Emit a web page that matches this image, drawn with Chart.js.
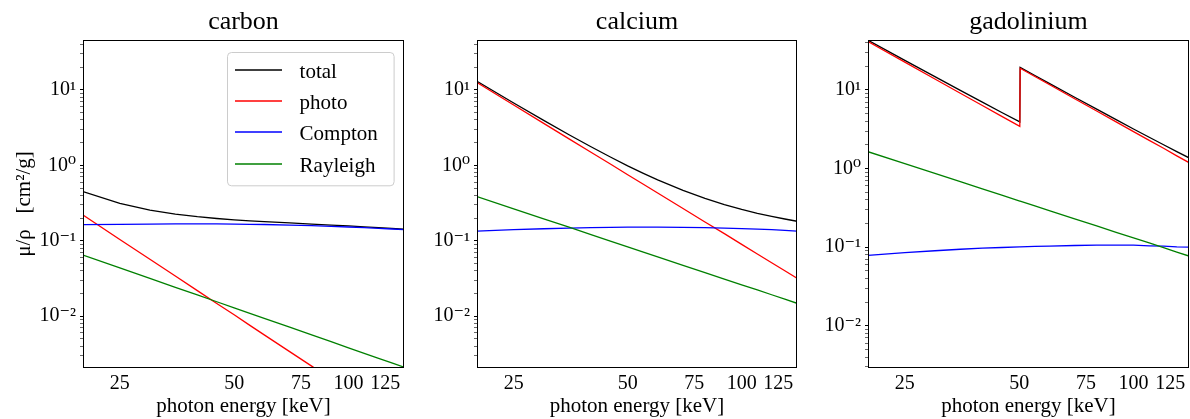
<!DOCTYPE html>
<html>
<head>
<meta charset="utf-8">
<script src="https://cdn.jsdelivr.net/npm/chart.js@4.4.1/dist/chart.umd.min.js"></script>
<style>
  html, body { margin: 0; padding: 0; background: #ffffff; }
  body { width: 1190px; height: 419px; position: relative; overflow: hidden; }
  canvas { position: absolute; top: 0; }
</style>
</head>
<body>
<canvas id="c1" width="410" height="419" style="left:0px;width:410px;height:419px"></canvas>
<canvas id="c2" width="390" height="419" style="left:410px;width:390px;height:419px"></canvas>
<canvas id="c3" width="390" height="419" style="left:800px;width:390px;height:419px"></canvas>
<script>
// ---------------- data ----------------
const seriesNames = ['total', 'photo', 'Compton', 'Rayleigh'];
const panelTitles = ['carbon', 'calcium', 'gadolinium'];

const energies = [20, 25, 30, 35, 40, 45, 50, 55, 60, 70, 80, 90, 100, 110, 120, 130, 140];

const carbonTotal    = [0.447, 0.313, 0.255, 0.225, 0.208, 0.197, 0.189, 0.183, 0.179, 0.172, 0.166, 0.161, 0.157, 0.153, 0.149, 0.146, 0.142];
const carbonPhoto    = [0.219, 0.104, 0.0568, 0.0340, 0.0218, 0.0147, 0.0104, 0.00754, 0.00564, 0.00338, 0.00217, 0.00146, 0.00103, 0.00075, 0.00056, 0.00043, 0.00034];
const carbonCompton  = [0.163, 0.165, 0.166, 0.167, 0.167, 0.167, 0.166, 0.165, 0.164, 0.161, 0.158, 0.155, 0.152, 0.149, 0.146, 0.143, 0.140];
const carbonRayleigh = [0.0646, 0.0436, 0.0317, 0.0241, 0.0191, 0.0155, 0.0129, 0.0109, 0.00934, 0.00712, 0.00563, 0.00458, 0.00380, 0.00321, 0.00276, 0.00240, 0.00210];

const calciumTotal    = [13.0, 6.70, 3.94, 2.54, 1.76, 1.29, 0.984, 0.782, 0.641, 0.464, 0.364, 0.302, 0.260, 0.231, 0.210, 0.194, 0.181];
const calciumPhoto    = [12.5, 6.30, 3.60, 2.24, 1.49, 1.04, 0.750, 0.560, 0.429, 0.267, 0.177, 0.124, 0.0893, 0.0667, 0.0510, 0.0399, 0.0318];
const calciumCompton  = [0.134, 0.140, 0.144, 0.147, 0.149, 0.150, 0.151, 0.151, 0.151, 0.150, 0.149, 0.147, 0.145, 0.142, 0.140, 0.137, 0.134];
const calciumRayleigh = [0.384, 0.264, 0.195, 0.151, 0.120, 0.0989, 0.0829, 0.0707, 0.0611, 0.0472, 0.0378, 0.0310, 0.0260, 0.0222, 0.0192, 0.0168, 0.0148];

const gdEnergies = [20, 25, 30, 35, 40, 45, 50.2, 50.3, 55, 60, 70, 80, 90, 100, 110, 120, 130, 140];
const gdTotal    = [42.9, 23.8, 14.75, 9.87, 6.99, 5.17, 3.92, 19.37, 15.28, 12.13, 8.07, 5.69, 4.19, 3.19, 2.50, 2.01, 1.64, 1.37];
const gdPhoto    = [41.2, 22.56, 13.79, 9.09, 6.34, 4.62, 3.44, 18.88, 14.84, 11.73, 7.74, 5.39, 3.93, 2.95, 2.28, 1.81, 1.45, 1.19];
const gdCompton  = [0.0784, 0.085, 0.090, 0.094, 0.097, 0.099, 0.101, 0.101, 0.102, 0.103, 0.105, 0.106, 0.106, 0.106, 0.104, 0.103, 0.101, 0.100];
const gdRayleigh = [1.637, 1.153, 0.866, 0.680, 0.551, 0.458, 0.386, 0.385, 0.334, 0.292, 0.229, 0.186, 0.154, 0.131, 0.113, 0.0983, 0.0866, 0.0771];

const xTickValues = [25, 50, 75, 100, 125];
const xTickLabels = ['25', '50', '75', '100', '125'];
const yTickValues = [0.01, 0.1, 1, 10];
const yTickLabels = ['10\u207B\u00B2', '10\u207B\u00B9', '10\u2070', '10\u00B9'];

const xRange = [20, 140];
const yRangeCaCa = [0.00205, 45.9];
const yRangeGd = [0.0029, 43.2];

// ---------------- styling ----------------
const FONT = "'Liberation Serif', 'DejaVu Serif', serif";
Chart.defaults.font.family = FONT;
Chart.defaults.color = '#000000';
const seriesColors = ['#000000', '#ff0000', '#0000ff', '#008000'];

function pts(xs, ys) { return xs.map((x, i) => ({ x: x, y: ys[i] })); }

function minorMajorTicks(min, max) {
  const out = [];
  for (let e = -4; e <= 2; e++) {
    for (let m = 1; m <= 9; m++) {
      const v = m * Math.pow(10, e);
      if (v >= min * 0.9999 && v <= max * 1.0001) out.push({ value: v, major: m === 1 });
    }
  }
  return out;
}

function yLabel(v) {
  const i = yTickValues.findIndex(t => Math.abs(t - v) / t < 1e-6);
  return i >= 0 ? yTickLabels[i] : '';
}
function xLabel(v) {
  const i = xTickValues.findIndex(t => Math.abs(t - v) < 1e-6);
  return i >= 0 ? xTickLabels[i] : '';
}

const framePlugin = {
  id: 'frame',
  afterDatasetsDraw(chart) {
    const { ctx, chartArea: a } = chart;
    ctx.save();
    ctx.strokeStyle = '#000000';
    ctx.lineWidth = 1;
    ctx.strokeRect(Math.round(a.left) + 0.5, Math.round(a.top) + 0.5,
                   Math.round(a.right) - Math.round(a.left) - 1, Math.round(a.bottom) - Math.round(a.top) - 1);
    ctx.restore();
  }
};

const boxLegendPlugin = {
  id: 'boxLegend',
  afterDraw(chart, args, opts) {
    if (!opts || !opts.show) return;
    const { ctx, chartArea: a } = chart;
    const w = 166.6, h = 133.3;
    const x0 = Math.round(a.right - 10.7 - w), y0 = Math.round(a.top + 11.7);
    ctx.save();
    ctx.beginPath();
    if (ctx.roundRect) ctx.roundRect(x0 + 0.5, y0 + 0.5, w, h, 4); else ctx.rect(x0 + 0.5, y0 + 0.5, w, h);
    ctx.fillStyle = 'rgba(255,255,255,0.8)';
    ctx.fill();
    ctx.strokeStyle = '#cccccc';
    ctx.lineWidth = 1;
    ctx.stroke();
    ctx.font = '21px ' + FONT;
    ctx.textBaseline = 'alphabetic';
    ctx.textAlign = 'left';
    chart.data.datasets.forEach((ds, i) => {
      const y = Math.round(y0 + 17.5 + i * 31.4);
      ctx.beginPath();
      ctx.strokeStyle = seriesColors[i];
      ctx.lineWidth = 1.5;
      ctx.moveTo(x0 + 8, y);
      ctx.lineTo(x0 + 55, y);
      ctx.stroke();
      ctx.fillStyle = '#000000';
      ctx.fillText(ds.label, x0 + 72.6, y + 7.5);
    });
    ctx.restore();
  }
};

function buildChart(id, title, xs, series, yRange, yAxisWidth, padRight, showYTitle, showLegend) {
  const datasets = series.map((vals, i) => ({
    label: seriesNames[i],
    data: pts(xs, vals),
    borderColor: seriesColors[i],
    backgroundColor: seriesColors[i],
    borderWidth: 1.3,
    pointRadius: 0,
    tension: 0,
    fill: false,
    clip: 0,
    order: series.length - i
  }));
  return new Chart(document.getElementById(id), {
    type: 'line',
    data: { datasets: datasets },
    plugins: [framePlugin, boxLegendPlugin],
    options: {
      responsive: false,
      animation: false,
      devicePixelRatio: 1,
      layout: { padding: { left: 0, right: padRight, top: 0, bottom: 0 } },
      plugins: {
        legend: { display: false },
        tooltip: { enabled: false },
        title: {
          display: true, text: title, fullSize: false, color: '#000',
          font: { family: FONT, size: 26, weight: 'normal' },
          padding: { top: 7, bottom: 1.8 }
        },
        boxLegend: { show: showLegend }
      },
      scales: {
        x: {
          type: 'logarithmic',
          position: 'bottom',
          min: xRange[0], max: xRange[1],
          afterBuildTicks: (scale) => { scale.ticks = xTickValues.map(v => ({ value: v, major: true })); },
          afterFit: (scale) => { scale.height = 51; },
          grid: { display: false, drawTicks: false, tickLength: 0 },
          border: { display: false },
          ticks: { autoSkip: false, maxRotation: 0, minRotation: 0, padding: 4, color: '#000',
                   font: { family: FONT, size: 20 }, callback: (v) => xLabel(v) },
          title: { display: true, text: 'photon energy [keV]', color: '#000',
                   font: { family: FONT, size: 21 }, padding: { top: 0, bottom: 0 } }
        },
        y: {
          type: 'logarithmic',
          position: 'left',
          min: yRange[0], max: yRange[1],
          afterBuildTicks: (scale) => { scale.ticks = minorMajorTicks(yRange[0], yRange[1]); },
          afterFit: (scale) => { scale.width = yAxisWidth; },
          grid: { display: true, drawOnChartArea: false, drawTicks: true, tickLength: 3,
                  tickColor: (ctx) => (ctx.tick && ctx.tick.major) ? '#000000' : '#444444',
                  tickWidth: (ctx) => (ctx.tick && ctx.tick.major) ? 1 : 0.8 },
          border: { display: false },
          ticks: { autoSkip: false, padding: 4, color: '#000',
                   font: { family: FONT, size: 20 }, callback: (v) => yLabel(v) },
          title: { display: showYTitle, text: '\u03BC/\u03C1   [cm\u00B2/g]', color: '#000',
                   font: { family: FONT, size: 21 }, padding: { top: 12, bottom: 0 } }
        }
      }
    }
  });
}

buildChart('c1', panelTitles[0], energies, [carbonTotal, carbonPhoto, carbonCompton, carbonRayleigh], yRangeCaCa, 83, 6, true, true);
buildChart('c2', panelTitles[1], energies, [calciumTotal, calciumPhoto, calciumCompton, calciumRayleigh], yRangeCaCa, 67, 3, false, false);
buildChart('c3', panelTitles[2], gdEnergies, [gdTotal, gdPhoto, gdCompton, gdRayleigh], yRangeGd, 68, 1, false, false);
</script>
</body>
</html>
